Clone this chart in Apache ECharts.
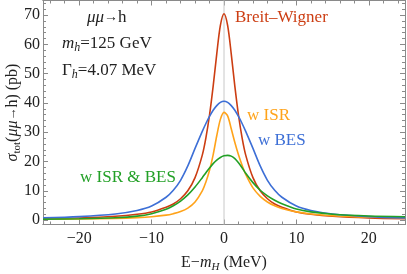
<!DOCTYPE html>
<html><head><meta charset="utf-8">
<script src="https://cdn.jsdelivr.net/npm/echarts@6/dist/echarts.min.js"></script>
<style>html,body{margin:0;padding:0;background:#fff}#c{width:407px;height:274px}</style>
</head><body><div id="c"></div>
<script>
// Shared x sample points (MeV)
const xs = [-25,-20,-15,-12,-10,-8,-7,-6,-5,-4,-3,-2.5,-2,-1.5,-1,-0.5,0,0.5,1,1.5,2,2.5,3,4,5,6,7,8,10,12,15,20,25];
// Breit-Wigner (pb)
const bw   = [0.46,0.72,1.3,2.0,2.8,4.4,5.5,7.3,10.0,14.5,22.2,28.1,35.9,45.7,56.8,66.5,70.5,66.5,56.8,45.7,35.9,28.1,22.2,14.5,10.0,7.3,5.5,4.4,2.8,2.0,1.3,0.72,0.46];
// with ISR
const isr  = [0.3,0.4,0.6,0.85,1.15,1.7,2.2,2.9,4.1,6.2,10.0,13.0,17.0,22.3,28.8,34.4,36.8,35.6,31.2,26.5,22.3,18.7,15.6,11.0,8.1,6.2,4.9,4.0,2.8,2.1,1.5,1.0,0.75];
// with BES
const bes  = [0.75,1.2,2.1,3.3,4.8,7.8,10.2,13.6,18.5,24.5,30.3,33.0,35.4,37.5,39.1,40.2,40.6,40.2,39.1,37.5,35.4,33.0,30.3,24.5,18.5,13.6,10.2,7.8,4.8,3.3,2.1,1.2,0.75];
// with ISR & BES
const both = [0.3,0.45,0.8,1.35,2.2,3.7,4.9,6.5,8.6,11.3,14.5,16.2,17.8,19.3,20.5,21.4,21.95,22.1,21.85,21.0,19.6,17.9,16.0,12.8,10.2,8.3,6.8,5.6,3.8,2.8,2.0,1.4,1.15];

const xMajor = [-20,-10,0,10,20];
const xMinor = [-24,-22,-18,-16,-14,-12,-8,-6,-4,-2,2,4,6,8,12,14,16,18,22,24];
const yMajor = [0,10,20,30,40,50,60,70];
const yMinor = [2,4,6,8,12,14,16,18,22,24,26,28,32,34,36,38,42,44,46,48,52,54,56,58,62,64,66,68,72,74];

const FONT = 'Liberation Serif';
const FRAME = '#8a8a8a';
const pair = (ys) => xs.map((x, i) => [x, ys[i]]);
const fmt = v => v < 0 ? '\u2212' + Math.abs(v) : String(v);

const richAx = {
  n: { fontFamily: FONT, fontSize: 16, lineHeight: 20, color: '#222' },
  i: { fontFamily: FONT, fontSize: 16, fontStyle: 'italic', lineHeight: 20, color: '#222' },
  a: { fontFamily: FONT, fontSize: 13, lineHeight: 20, color: '#222' },
  si: { fontFamily: FONT, fontSize: 11, fontStyle: 'italic', verticalAlign: 'bottom', lineHeight: 12, color: '#222' },
  s: { fontFamily: FONT, fontSize: 11, verticalAlign: 'bottom', lineHeight: 12, color: '#222' }
};

function xAx(pos, vals, len, labels, name) {
  return {
    type: 'value', min: -25, max: 25, position: pos,
    axisLine: { show: true, onZero: false, lineStyle: { color: FRAME, width: 1 } },
    axisTick: { show: true, inside: true, length: len, customValues: vals, lineStyle: { color: FRAME } },
    axisLabel: labels ? { show: true, customValues: vals, formatter: fmt, margin: 6, color: '#222', fontFamily: FONT, fontSize: 16 } : { show: false },
    splitLine: { show: false },
    name: name || '', nameLocation: 'middle', nameGap: 28, nameMoveOverlap: false,
    nameTextStyle: { color: '#222', fontFamily: FONT, fontSize: 16, rich: richAx }
  };
}
function yAx(pos, vals, len, labels, name) {
  return {
    type: 'value', min: -1.5, max: 75, position: pos,
    axisLine: { show: true, onZero: false, lineStyle: { color: FRAME, width: 1 } },
    axisTick: { show: true, inside: true, length: len, customValues: vals, lineStyle: { color: FRAME } },
    axisLabel: labels ? { show: true, customValues: vals, margin: 3, color: '#222', fontFamily: FONT, fontSize: 16 } : { show: false },
    splitLine: { show: false },
    name: name || '', nameLocation: 'middle', nameGap: 20, nameRotate: 90, nameMoveOverlap: false,
    nameTextStyle: { color: '#222', fontFamily: FONT, fontSize: 16, rich: richAx }
  };
}

const chart = echarts.init(document.getElementById('c'), null, { renderer: 'canvas' });
const lineS = (ys, color, z) => ({
  type: 'line', data: pair(ys), smooth: 0.3, showSymbol: false, symbol: 'none', z: z,
  lineStyle: { color: color, width: 1.6 }, xAxisIndex: 0, yAxisIndex: 0, silent: true
});
const RED = '#cc3d12', ORANGE = '#ffa31a', BLUE = '#3d6fd6', GREEN = '#22a026';
const AF = 17;
const richAnn = {
  n: { fontFamily: FONT, fontSize: AF, lineHeight: 20 },
  i: { fontFamily: FONT, fontSize: AF, fontStyle: 'italic', lineHeight: 20 },
  a: { fontFamily: FONT, fontSize: 14, lineHeight: 20 },
  s: { fontFamily: FONT, fontSize: 12, fontStyle: 'italic', verticalAlign: 'bottom', lineHeight: 12 }
};
const ann = (x, y, text, color, rich) => ({
  type: 'text', left: x, top: y, z: 100,
  style: { text: text, fill: color, font: AF + 'px "' + FONT + '"', rich: rich }
});

chart.setOption({
  animation: false,
  backgroundColor: '#fff',
  grid: { left: 43, right: 2, top: 0.5, bottom: 49.5, containLabel: false, outerBoundsMode: 'none' },
  xAxis: [
    xAx('bottom', xMajor, 5, true, '{n|E\u2212}{i|m}{si|H}{n| (MeV)}'),
    xAx('bottom', xMinor, 3, false),
    xAx('top', xMajor, 5, false),
    xAx('top', xMinor, 3, false)
  ],
  yAxis: [
    yAx('left', yMajor, 5, true, '{i|σ}{s|tot}{n|(}{i|μμ}{a|→}{n|h) (pb)}'),
    yAx('left', yMinor, 3, false),
    yAx('right', yMajor, 5, false),
    yAx('right', yMinor, 3, false)
  ],
  series: [
    { type: 'line', data: [[0, -1.5], [0, 75]], symbol: 'none', lineStyle: { color: '#c8c8c8', width: 1 }, silent: true, z: 1 },
    lineS(bw, RED, 3),
    lineS(isr, ORANGE, 4),
    lineS(bes, BLUE, 5),
    lineS(both, GREEN, 6)
  ],
  graphic: [
    ann(87, 9, '{i|μμ}{a|→}{n|h}', '#222', richAnn),
    ann(62, 35, '{i|m}{s|h}{n|=125 GeV}', '#222', richAnn),
    ann(62, 62, '{n|Γ}{s|h}{n|=4.07 MeV}', '#222', richAnn),
    ann(235, 9, 'Breit\u2013Wigner', RED),
    ann(247, 107, 'w ISR', ORANGE),
    ann(258, 132, 'w BES', BLUE),
    ann(80, 169, 'w ISR & BES', GREEN)
  ]
});
</script></body></html>
